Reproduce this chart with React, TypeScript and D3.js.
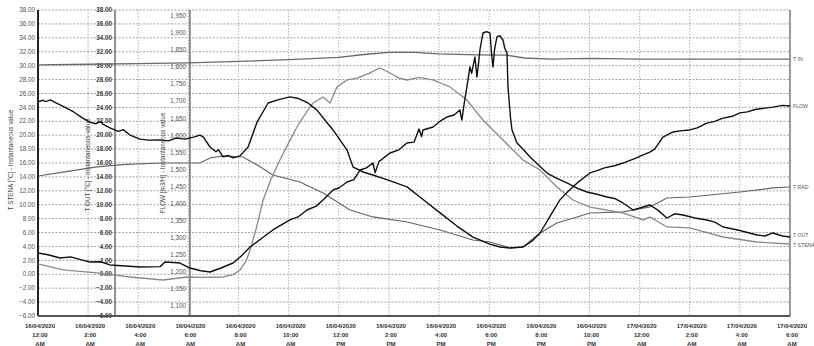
import React from "react";
import * as d3 from "d3";

// ---- DATA (hours since 16/04/2020 00:00, value) ----
const X_TICK_HOURS = [0, 2, 4, 6, 8, 10, 12, 14, 16, 18, 20, 22, 24, 26, 28, 30];
const X_TICK_DATES = ["16/04/2020", "16/04/2020", "16/04/2020", "16/04/2020", "16/04/2020", "16/04/2020", "16/04/2020", "16/04/2020", "16/04/2020", "16/04/2020", "16/04/2020", "16/04/2020", "17/04/2020", "17/04/2020", "17/04/2020", "17/04/2020"];
const X_TICK_TIMES = ["12:00", "2:00", "4:00", "6:00", "8:00", "10:00", "12:00", "2:00", "4:00", "6:00", "8:00", "10:00", "12:00", "2:00", "4:00", "6:00"];
const X_TICK_AMPM = ["AM", "AM", "AM", "AM", "AM", "AM", "PM", "PM", "PM", "PM", "PM", "PM", "AM", "AM", "AM", "AM"];

const TEMP_TICKS = [-6, -4, -2, 0, 2, 4, 6, 8, 10, 12, 14, 16, 18, 20, 22, 24, 26, 28, 30, 32, 34, 36, 38];
const FLOW_TICKS = [1100, 1150, 1200, 1250, 1300, 1350, 1400, 1450, 1500, 1550, 1600, 1650, 1700, 1750, 1800, 1850, 1900, 1950];

const T_IN: [number, number][] = [
  [0, 30.1], [2, 30.2], [4, 30.3], [6, 30.4], [8, 30.6], [10, 30.85], [12, 31.2], [13, 31.6], [14, 31.9],
  [15, 31.9], [16, 31.7], [17.5, 31.55], [18.7, 31.5], [19.4, 31.1], [20.5, 30.95], [22, 31.05], [24, 30.95],
  [27, 30.95], [30, 30.95],
];

const FLOW: [number, number][] = [
  [0, 1698], [0.2, 1703], [0.3, 1699], [0.5, 1704], [0.7, 1696], [0.9, 1689], [1.2, 1678], [1.4, 1670],
  [1.5, 1665], [1.8, 1650], [2.07, 1639], [2.3, 1634], [2.5, 1641], [2.6, 1632], [2.87, 1622], [3.2, 1612],
  [3.4, 1617], [3.67, 1601], [4.07, 1589], [4.4, 1586], [4.87, 1587], [5.2, 1584], [5.5, 1592], [5.86, 1589],
  [6.2, 1595], [6.46, 1601], [6.6, 1595], [6.86, 1566], [7.1, 1552], [7.2, 1558], [7.38, 1537], [7.6, 1541],
  [7.78, 1534], [8.06, 1540], [8.38, 1566], [8.74, 1639], [9.18, 1695], [9.6, 1705], [10.05, 1713],
  [10.4, 1708], [10.77, 1695], [11.13, 1674], [11.5, 1640], [11.77, 1616], [12.33, 1557], [12.57, 1507],
  [13.0, 1492], [13.36, 1484], [14.0, 1468], [14.72, 1449], [15.4, 1410], [16.04, 1373], [16.7, 1335],
  [17.35, 1302], [18.0, 1282], [18.43, 1273], [18.83, 1270], [19.35, 1273], [19.7, 1290], [20.03, 1314],
  [20.4, 1360], [20.82, 1411], [21.2, 1440], [21.5, 1460], [22.02, 1490], [22.3, 1497], [22.6, 1505],
  [23.0, 1511], [23.34, 1519], [23.9, 1535], [24.14, 1543], [24.41, 1551], [24.6, 1560], [24.93, 1595],
  [25.33, 1610], [25.7, 1614], [26.0, 1616], [26.3, 1622], [26.68, 1636], [27.0, 1641], [27.3, 1650],
  [27.7, 1656], [28.0, 1666], [28.3, 1669], [28.6, 1676], [29.0, 1680], [29.32, 1683], [29.7, 1688], [30, 1686],
];

const T_OUT: [number, number][] = [
  [0, 3.06], [0.4, 2.8], [0.88, 2.34], [1.3, 2.5], [1.7, 2.1], [2.07, 1.77], [2.5, 1.8], [2.87, 1.34],
  [3.5, 1.2], [4.07, 1.05], [4.87, 1.1], [5.07, 1.77], [5.4, 1.7], [5.66, 1.62], [6.06, 0.9], [6.5, 0.5],
  [6.86, 0.33], [7.3, 0.9], [7.78, 1.62], [8.1, 2.6], [8.46, 3.92], [8.9, 5.1], [9.37, 6.37], [10.05, 7.81],
  [10.4, 8.3], [10.73, 9.24], [11.1, 9.8], [11.37, 10.68], [11.77, 12.12], [12.0, 12.4], [12.33, 13.27],
  [12.6, 13.6], [12.85, 14.99], [13.1, 15.3], [13.36, 16.0], [13.45, 14.6], [13.6, 16.2], [14.04, 17.44],
  [14.4, 17.9], [14.72, 18.88], [15.0, 19.0], [15.2, 20.9], [15.3, 19.8], [15.36, 20.75], [15.76, 21.18],
  [16.0, 21.9], [16.32, 22.62], [16.6, 22.9], [16.83, 23.62], [16.91, 22.18], [17.0, 24.5], [17.11, 26.93],
  [17.23, 29.8], [17.3, 28.9], [17.43, 31.24], [17.51, 28.37], [17.58, 30.5], [17.63, 32.25], [17.75, 34.69],
  [17.9, 34.9], [18.03, 34.69], [18.1, 31.5], [18.15, 29.8], [18.22, 32.5], [18.31, 34.12], [18.42, 34.3],
  [18.55, 33.69], [18.62, 32.5], [18.71, 31.82], [18.75, 26.93], [18.85, 22.5], [18.91, 20.75], [19.11, 18.88],
  [19.4, 17.8], [19.63, 16.86], [20.0, 15.6], [20.31, 14.56], [20.7, 13.8], [21.1, 13.13], [21.5, 12.4],
  [21.9, 11.83], [22.3, 11.5], [22.7, 11.11], [23.0, 10.9], [23.34, 10.25], [23.74, 9.24], [24.14, 9.67],
  [24.41, 9.96], [24.7, 9.3], [25.09, 8.09], [25.4, 8.7], [25.73, 8.52], [26.2, 8.1], [26.68, 7.81],
  [27.0, 7.5], [27.33, 6.8], [28.0, 6.3], [28.68, 5.65], [29.0, 5.5], [29.32, 5.94], [29.7, 5.5], [30, 5.36],
];

const T_STENA: [number, number][] = [
  [0, 1.48], [1, 0.62], [2.35, 0.19], [3.67, -0.39], [4.99, -0.82], [5.94, -0.39], [6.5, -0.45], [7.38, -0.39],
  [7.8, 0.0], [8.06, 0.62], [8.3, 1.9], [8.46, 3.49], [8.7, 6.5], [8.98, 10.68], [9.3, 13.7], [9.65, 16.43],
  [10.0, 18.9], [10.33, 21.18], [10.65, 23.0], [10.97, 24.63], [11.37, 25.49], [11.65, 24.63], [11.93, 26.93],
  [12.33, 27.94], [12.73, 28.22], [13.2, 28.9], [13.64, 29.66], [14.04, 28.94], [14.4, 28.2], [14.72, 27.94],
  [15.2, 28.3], [15.76, 27.94], [16.44, 26.93], [17.11, 25.06], [17.75, 22.18], [18.43, 19.74], [19.35, 16.43],
  [20.03, 14.99], [20.7, 12.55], [21.34, 10.68], [22.02, 9.67], [23.34, 8.81], [24.14, 7.81], [24.41, 8.24],
  [25.09, 6.8], [26.0, 6.66], [27.33, 5.36], [28.68, 4.64], [30, 4.35],
];

const T_RAD: [number, number][] = [
  [0, 14.13], [1, 14.7], [2.35, 15.43], [3.5, 15.8], [4.99, 16.0], [6.46, 16.0], [6.86, 16.72], [7.38, 17.01],
  [8.18, 16.86], [8.8, 15.6], [9.37, 14.28], [10.45, 13.27], [11.37, 11.69], [12.45, 9.24], [13.36, 8.24],
  [14.72, 7.52], [16.04, 6.37], [17.35, 4.93], [18.03, 4.64], [18.83, 3.78], [19.35, 3.92], [20.03, 5.94],
  [20.7, 7.37], [21.5, 8.24], [22.02, 8.81], [23.34, 8.96], [24.41, 9.67], [25.09, 10.97], [26.0, 11.11],
  [28.0, 11.83], [29.32, 12.41], [30, 12.55],
];

const SERIES_LABELS = ["T IN", "FLOW", "T RAD", "T OUT", "T STENA"];

export default function App() {
  const W = 814, H = 346;
  const left = 38, right = 790, top = 10, bottom = 316;
  const x = d3.scaleLinear().domain([0, 30]).range([left, right]);
  const yT = d3.scaleLinear().domain([-6, 38]).range([bottom, top]);
  const yF = d3.scaleLinear().domain([1070.7, 1967.5]).range([bottom, top]);
  const lineT = d3.line<[number, number]>().x((d) => x(d[0])).y((d) => yT(d[1]));
  const lineF = d3.line<[number, number]>().x((d) => x(d[0])).y((d) => yF(d[1]));
  const fmtT = d3.format(".2f");
  const fmtF = d3.format(",");
  const font = "'Liberation Sans', Arial, sans-serif";
  const tOutAxisX = 115;
  const flowAxisX = x(6) + 1.5;

  const labelY: Record<string, number> = {
    "T IN": yT(30.95),
    FLOW: yF(1686),
    "T RAD": yT(12.55),
    "T OUT": yT(5.6),
    "T STENA": yT(4.35) + 1,
  };

  return (
    <svg width={W} height={H} style={{ position: "absolute", left: 0, top: 0, background: "#fff" }} fontFamily={font}>
      <rect x={0} y={0} width={W} height={H} fill="#fff" />
      {/* horizontal grid */}
      {TEMP_TICKS.map((t) => (
        <line key={"hg" + t} x1={left} x2={right} y1={yT(t)} y2={yT(t)} stroke="#8c8c8c" strokeWidth={0.8} strokeDasharray="2,1.5" />
      ))}
      {/* vertical grid */}
      {X_TICK_HOURS.map((h) => (
        <line key={"vg" + h} x1={x(h)} x2={x(h)} y1={top} y2={bottom} stroke="#a0a0a0" strokeWidth={0.8} strokeDasharray="1.5,1.5" />
      ))}
      {/* axis lines */}
      <line x1={tOutAxisX} x2={tOutAxisX} y1={top} y2={bottom} stroke="#777" strokeWidth={1.6} />
      <line x1={flowAxisX} x2={flowAxisX} y1={top} y2={bottom} stroke="#777" strokeWidth={1.6} />
      <line x1={right} x2={right} y1={top} y2={bottom} stroke="#777" strokeWidth={1.4} />
      <line x1={left} x2={left} y1={top} y2={bottom} stroke="#222" strokeWidth={2} />
      <line x1={left} x2={right} y1={bottom} y2={bottom} stroke="#555" strokeWidth={2} />

      {/* left axis labels */}
      {TEMP_TICKS.map((t) => (
        <text key={"l" + t} x={left - 3} y={yT(t) + 2.2} fontSize={6.3} fill="#555" textAnchor="end">{fmtT(t)}</text>
      ))}
      {/* T OUT axis labels */}
      {TEMP_TICKS.map((t) => (
        <text key={"o" + t} x={tOutAxisX - 3} y={yT(t) + 2.2} fontSize={6.3} fill="#444" fontWeight="bold" textAnchor="end">{fmtT(t)}</text>
      ))}
      {/* FLOW axis labels */}
      {FLOW_TICKS.map((t) => (
        <text key={"f" + t} x={flowAxisX - 4} y={yF(t) + 2.2} fontSize={6.3} fill="#555" textAnchor="end">{fmtF(t)}</text>
      ))}

      {/* axis titles */}
      <text transform={`translate(13,160) rotate(-90)`} fontSize={6.3} fill="#444" textAnchor="middle">T STENA [°C] - Instantaneous value</text>
      <text transform={`translate(90,165) rotate(-90)`} fontSize={6.3} fill="#444" textAnchor="middle">T OUT [°C] - Instantaneous value</text>
      <text transform={`translate(165,163) rotate(-90)`} fontSize={6.3} fill="#444" textAnchor="middle">FLOW [m3/H] - Instantaneous value</text>

      {/* x labels */}
      {X_TICK_HOURS.map((h, i) => (
        <g key={"x" + h} fontSize={6} fill="#333" fontWeight="bold" textAnchor="middle">
          <text x={x(h) + 2} y={328}>{X_TICK_DATES[i]}</text>
          <text x={x(h) + 2} y={337}>{X_TICK_TIMES[i]}</text>
          <text x={x(h) + 2} y={346}>{X_TICK_AMPM[i]}</text>
        </g>
      ))}

      {/* series */}
      <path d={lineT(T_IN) || ""} fill="none" stroke="#6a6a6a" strokeWidth={1.3} />
      <path d={lineT(T_RAD) || ""} fill="none" stroke="#666" strokeWidth={1.2} />
      <path d={lineT(T_STENA) || ""} fill="none" stroke="#8a8a8a" strokeWidth={1.3} />
      <path d={lineF(FLOW) || ""} fill="none" stroke="#111" strokeWidth={1.4} strokeLinejoin="round" />
      <path d={lineT(T_OUT) || ""} fill="none" stroke="#111" strokeWidth={1.4} strokeLinejoin="round" />

      {/* series labels */}
      {SERIES_LABELS.map((s) => (
        <text key={"s" + s} x={right + 3} y={labelY[s] + 2} fontSize={5.2} fill="#555">{s}</text>
      ))}
    </svg>
  );
}
